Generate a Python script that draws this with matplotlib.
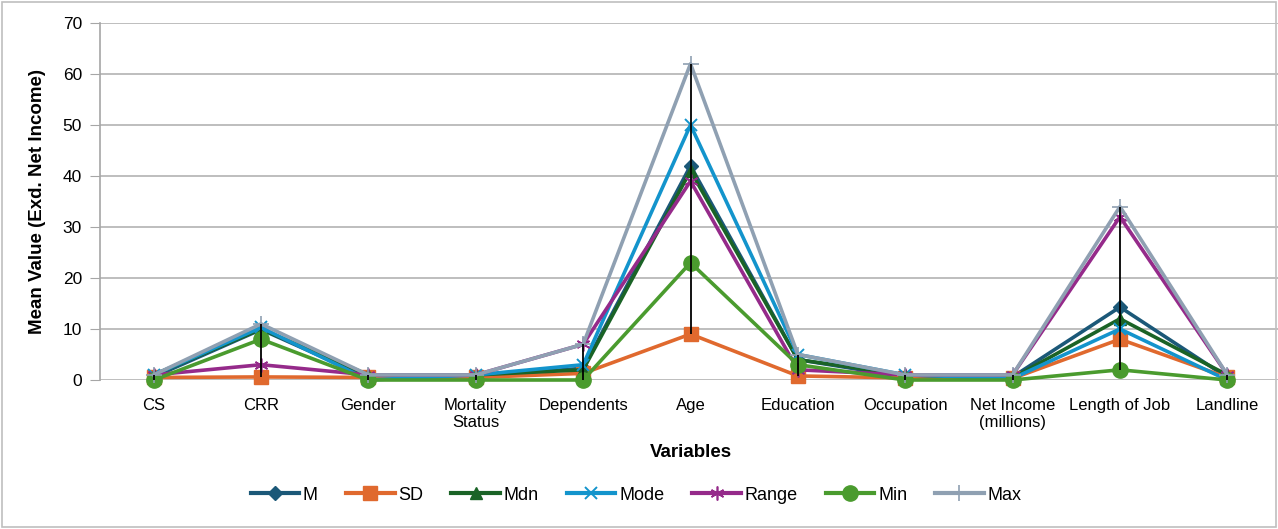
import matplotlib
matplotlib.use("Agg")
import matplotlib.pyplot as plt
from matplotlib.patches import Rectangle
import numpy as np

categories = ["CS", "CRR", "Gender", "Mortality\nStatus", "Dependents", "Age",
              "Education", "Occupation", "Net Income\n(millions)", "Length of Job", "Landline"]

M_vals     = [0.6, 9.9, 0.5, 0.7, 2.3, 42, 4.0, 0.6, 0.6, 14.3, 0.5]
SD_vals    = [0.5, 0.6, 0.5, 0.5, 1.3, 9, 0.8, 0.4, 0.3, 8, 0.5]
Mdn_vals   = [1, 10, 1, 1, 2, 41, 4, 1, 0.4, 12, 1]
Mode_vals  = [1, 10.3, 0, 1, 3, 50, 5, 1, 0.3, 10, 0]
Range_vals = [1, 3, 1, 1, 7, 39, 2, 1, 1, 32, 1]
Min_vals   = [0, 8, 0, 0, 0, 23, 3, 0, 0, 2, 0]
Max_vals   = [1, 11, 1, 1, 7, 62, 5, 1, 1, 34, 1]

series = [
    ("M", M_vals, "#1B5878", dict(marker="D", ms=7)),
    ("SD", SD_vals, "#E0692E", dict(marker="s", ms=10)),
    ("Mdn", Mdn_vals, "#1A6326", dict(marker="^", ms=8)),
    ("Mode", Mode_vals, "#1394CC", dict(marker="x", ms=9, mew=1.4)),
    ("Range", Range_vals, "#952A8A", dict(marker=(6, 2, 0), ms=10, mew=1.2)),
    ("Min", Min_vals, "#4A9B2E", dict(marker="o", ms=11)),
    ("Max", Max_vals, "#8FA0B2", dict(marker="+", ms=11, mew=1.2)),
]

plt.rcParams["font.family"] = ["Liberation Sans", "DejaVu Sans"]

fig = plt.figure(figsize=(12.78, 5.29), dpi=100)
ax = fig.add_axes([100 / 1278, 1 - 380 / 529, 1181 / 1278, 357 / 529])

x = np.arange(len(categories))
for name, vals, color, mk in series:
    ax.plot(x, vals, color=color, lw=2.6, label=name, mfc=color, mec=color,
            zorder=3, clip_on=False, **mk)

# high-low lines across all series
allv = np.array([s[1] for s in series], dtype=float)
ax.vlines(x, allv.min(axis=0), allv.max(axis=0), color="black", lw=1.3, zorder=5)

ax.set_xlim(-0.5, len(categories) - 0.5)
ax.set_ylim(0, 70)
ax.set_yticks(range(0, 71, 10))
ax.set_xticks(x)
ax.set_xticklabels(categories, fontsize=12)
ax.tick_params(axis="x", length=0, pad=13)
ax.tick_params(axis="y", length=7, color="#A6A6A6", labelsize=12.5, pad=6)
ax.grid(axis="y", color="#B3B3B3", lw=1.2, zorder=0)
ax.set_axisbelow(True)
for side in ["top", "right", "bottom"]:
    ax.spines[side].set_visible(False)
ax.spines["left"].set_color("#A6A6A6")
ax.spines["left"].set_linewidth(1.2)

ax.set_xlabel("Variables", fontsize=13.5, fontweight="bold", labelpad=10)
ax.set_ylabel("Mean Value (Exd. Net Income)", fontsize=13.5, fontweight="bold", labelpad=12)

leg = fig.legend(loc="center", bbox_to_anchor=(636 / 1278, 1 - 495 / 529), ncol=7,
                 frameon=False, fontsize=13, handlelength=2.7, columnspacing=1.55,
                 handletextpad=0.2)
for h in leg.legend_handles:
    h.set_linewidth(3)

fig.add_artist(Rectangle((2 / 1278, 2 / 529), 1274 / 1278, 525 / 529,
                         transform=fig.transFigure, fill=False,
                         edgecolor="#BFBFBF", lw=1.2))

fig.savefig("out.png", dpi=100)
